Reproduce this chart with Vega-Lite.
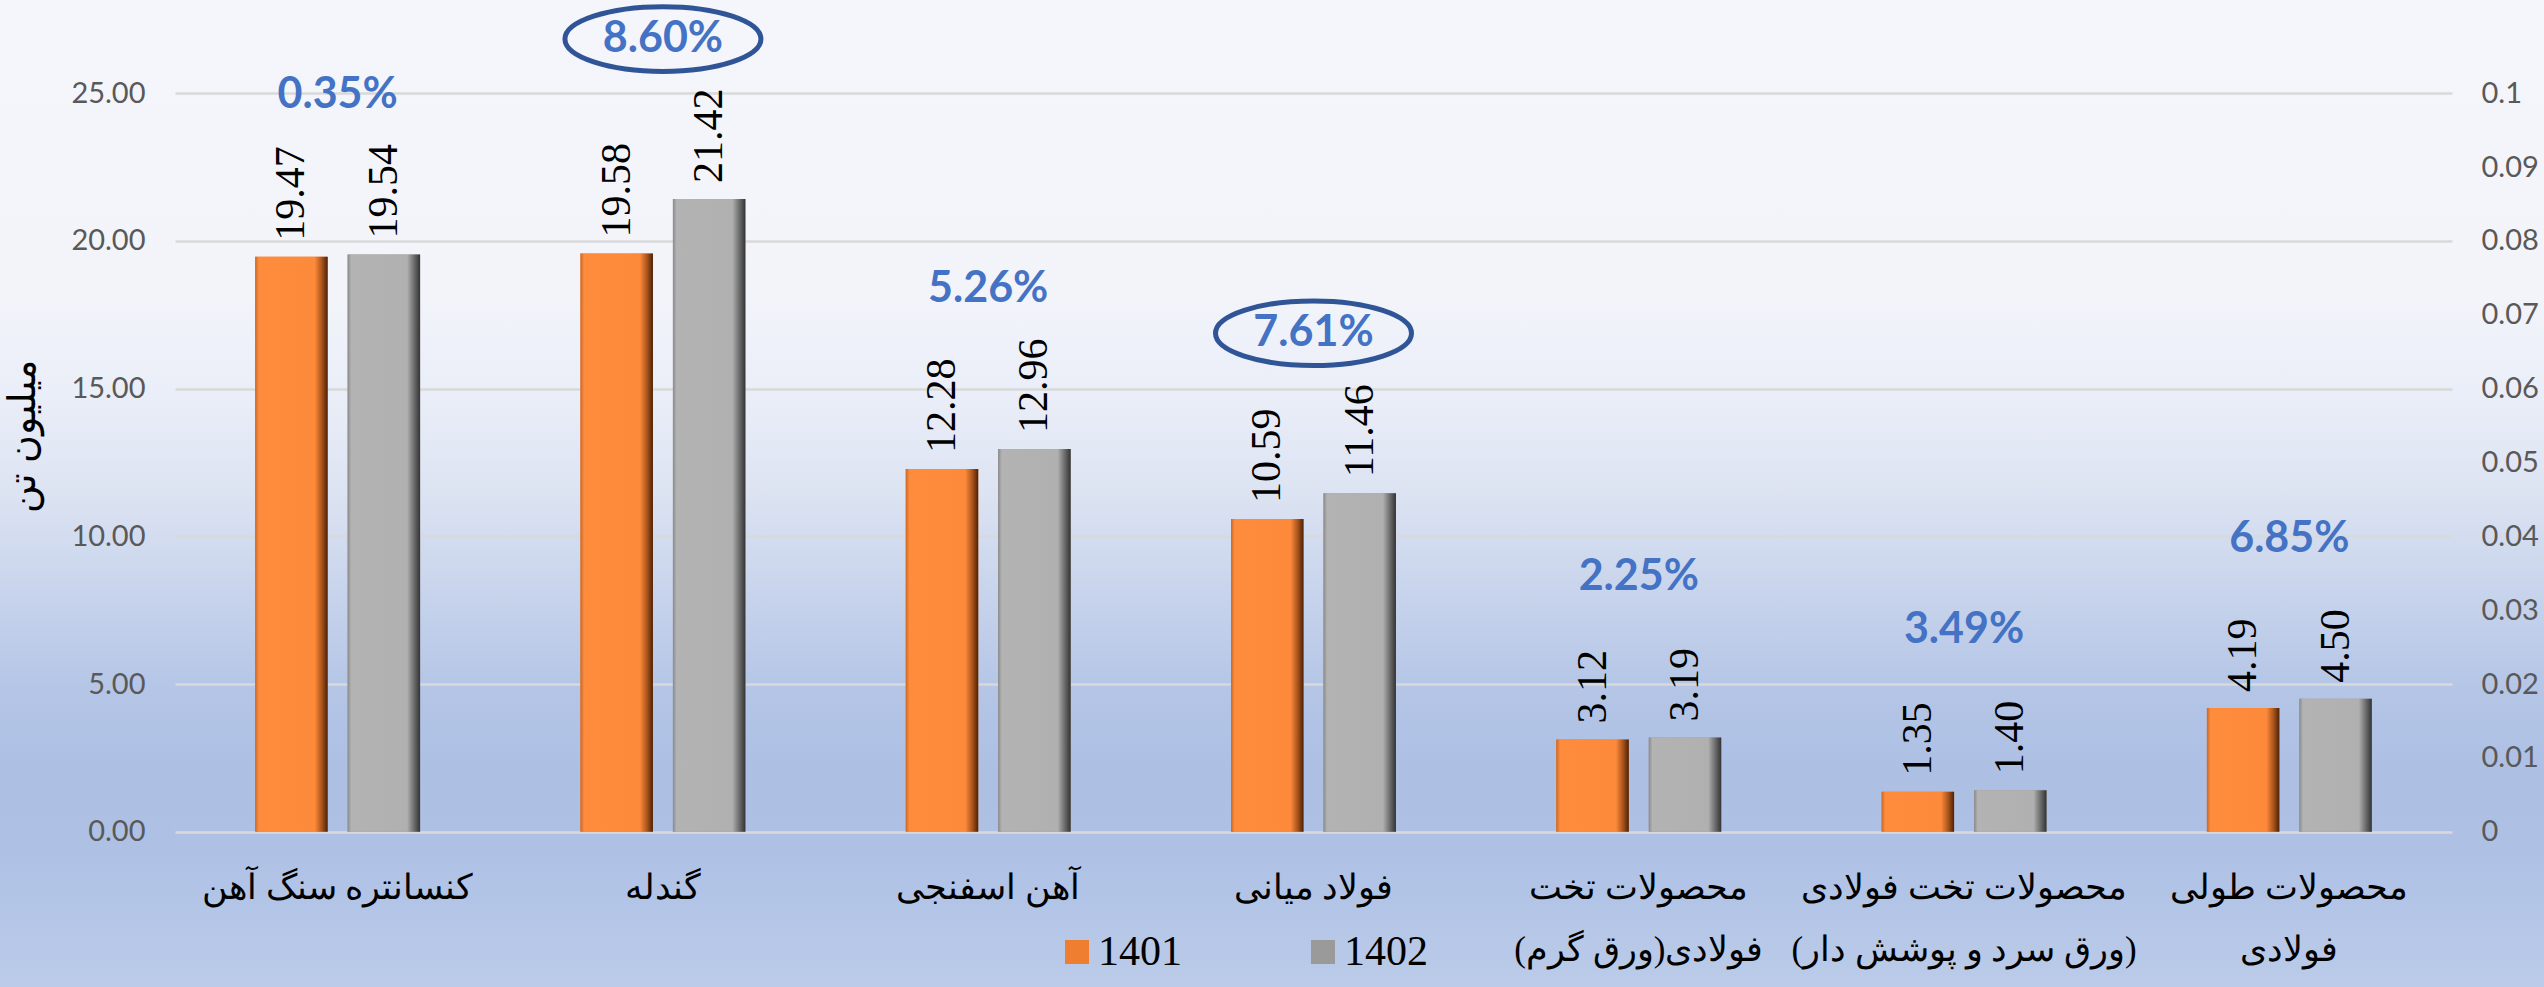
{
  "$schema": "https://vega.github.io/schema/vega-lite/v6.json",
  "width": 2544,
  "height": 987,
  "autosize": {"type": "none"},
  "padding": 0,
  "background": "#f5f6fb",
  "config": {
    "view": {
      "stroke": null,
      "fill": {
        "gradient": "linear", "x1": 0, "y1": 0, "x2": 0, "y2": 1,
        "stops": [
          {"offset": 0, "color": "#f5f6fb"},
          {"offset": 0.3, "color": "#f2f4fa"},
          {"offset": 0.4, "color": "#eaeef8"},
          {"offset": 0.5, "color": "#dce3f2"},
          {"offset": 0.6, "color": "#c8d4ec"},
          {"offset": 0.7, "color": "#b4c5e6"},
          {"offset": 0.78, "color": "#adc0e4"},
          {"offset": 0.86, "color": "#aec1e5"},
          {"offset": 1, "color": "#bbcbe9"}
        ]
      }
    }
  },
  "data": {
    "values": [
      {"category": "کنسانتره سنگ آهن", "1401": 19.47, "1402": 19.54, "growth": 0.0035, "highlight": false},
      {"category": "گندله", "1401": 19.58, "1402": 21.42, "growth": 0.0860, "highlight": true},
      {"category": "آهن اسفنجی", "1401": 12.28, "1402": 12.96, "growth": 0.0526, "highlight": false},
      {"category": "فولاد میانی", "1401": 10.59, "1402": 11.46, "growth": 0.0761, "highlight": true},
      {"category": "محصولات تخت فولادی(ورق گرم)", "1401": 3.12, "1402": 3.19, "growth": 0.0225, "highlight": false},
      {"category": "محصولات تخت فولادی (ورق سرد و پوشش دار)", "1401": 1.35, "1402": 1.40, "growth": 0.0349, "highlight": false},
      {"category": "محصولات طولی فولادی", "1401": 4.19, "1402": 4.50, "growth": 0.0685, "highlight": false}
    ]
  },
  "transform": [{"fold": ["1401", "1402"], "as": ["year", "value"]}],
  "layer": [
    {
      "encoding": {
        "x": {
          "field": "category", "type": "nominal", "sort": null,
          "scale": {"range": [175, 2452], "paddingInner": 0.493, "paddingOuter": 0.2465},
          "axis": {
            "orient": "bottom", "offset": -155.3, "title": null, "domain": false, "ticks": false, "grid": false,
            "labelAngle": 0, "labelFont": "Liberation Serif, Times New Roman, serif", "labelFontSize": 35, "labelColor": "#000000",
            "labelPadding": 39, "labelLineHeight": 62, "labelLimit": 0, "labelBaseline": "top",
            "labelExpr": "datum.value == 'محصولات تخت فولادی(ورق گرم)' ? ['محصولات تخت', 'فولادی(ورق گرم)\u200f'] : datum.value == 'محصولات تخت فولادی (ورق سرد و پوشش دار)' ? ['محصولات تخت فولادی', '\u200f(ورق سرد و پوشش دار)\u200f'] : datum.value == 'محصولات طولی فولادی' ? ['محصولات طولی', 'فولادی'] : datum.label"
          }
        },
        "y": {
          "field": "value", "type": "quantitative",
          "scale": {"domain": [0, 25], "range": [831.7, 93.3], "nice": false, "zero": true},
          "axis": {
            "orient": "left", "offset": -175, "values": [0, 5, 10, 15, 20, 25], "format": ".2f",
            "domain": false, "ticks": false, "grid": true, "gridColor": "#d9d9d9", "gridWidth": 2.5,
            "labelFont": "Lato", "labelFontSize": 29, "labelColor": "#595959", "labelPadding": 30,
            "title": "میلیون تن", "titleFont": "Liberation Serif, Times New Roman, serif", "titleFontSize": 38,
            "titleFontWeight": "normal", "titleColor": "#000000", "titleAngle": 270,
            "titleX": -152, "titleY": 436, "titleAlign": "center", "titleBaseline": "middle"
          }
        }
      },
      "layer": [
        {
          "mark": {"type": "bar"},
          "encoding": {
            "xOffset": {"field": "year", "type": "nominal", "scale": {"paddingInner": 0.216, "paddingOuter": 0}},
            "color": {
              "field": "year", "type": "nominal",
              "scale": {"domain": ["1401", "1402"], "range": ["#f07e30", "#9a9a9a"]},
              "legend": {
                "orient": "none", "legendX": 1056, "legendY": 931, "direction": "horizontal", "title": null,
                "symbolType": "square", "symbolSize": 576, "symbolStrokeWidth": 0,
                "labelFont": "Liberation Serif, Times New Roman, serif", "labelFontSize": 42, "labelColor": "#000000",
                "labelOffset": 0, "columnPadding": 120, "padding": 0
              }
            }
          }
        },
        {
          "mark": {"type": "bar"},
          "encoding": {
            "xOffset": {"field": "year", "type": "nominal"},
            "fill": {
              "condition": {
                "test": "datum.year == '1401'",
                "value": {
                  "gradient": "linear", "x1": 0, "y1": 0, "x2": 1, "y2": 0,
                  "stops": [
                    {"offset": 0, "color": "#c9682a"},
                    {"offset": 0.05, "color": "#fe8c3c"},
                    {"offset": 0.82, "color": "#fd8a3b"},
                    {"offset": 0.92, "color": "#a9531b"},
                    {"offset": 1, "color": "#4a2208"}
                  ]
                }
              },
              "value": {
                "gradient": "linear", "x1": 0, "y1": 0, "x2": 1, "y2": 0,
                "stops": [
                  {"offset": 0, "color": "#8a8a8a"},
                  {"offset": 0.05, "color": "#b3b3b3"},
                  {"offset": 0.82, "color": "#b0b0b0"},
                  {"offset": 0.92, "color": "#6a6a6a"},
                  {"offset": 1, "color": "#333333"}
                ]
              }
            }
          }
        },
        {
          "mark": {"type": "text", "angle": 270, "align": "left", "baseline": "middle", "dx": 16,
                   "font": "Liberation Serif, Times New Roman, serif", "fontSize": 42, "color": "#000000"},
          "encoding": {
            "xOffset": {"field": "year", "type": "nominal"},
            "text": {"field": "value", "type": "quantitative", "format": ".2f"}
          }
        },
        {
          "transform": [{"filter": "datum.year == '1402'"}],
          "mark": {"type": "text", "align": "center", "baseline": "middle", "yOffset": -160,
                   "font": "Lato", "fontWeight": "bold", "fontSize": 43, "color": "#4472c4"},
          "encoding": {
            "text": {"field": "growth", "type": "quantitative", "format": ".2%"}
          }
        },
        {
          "transform": [{"filter": "datum.year == '1402' && datum.highlight"}],
          "mark": {"type": "point", "filled": false, "yOffset": -160,
                   "shape": "M-1,0A1,0.33 0 1,1 1,0A1,0.33 0 1,1 -1,0Z",
                   "size": 38416, "stroke": "#2f5597", "strokeWidth": 5, "opacity": 1},
          "encoding": {}
        }
      ]
    },
    {
      "transform": [{"filter": "datum.year == '1402'"}],
      "mark": {"type": "point", "opacity": 0},
      "encoding": {
        "y": {
          "field": "growth", "type": "quantitative",
          "scale": {"domain": [0, 0.1], "range": [831.7, 93.3], "nice": false, "zero": true},
          "axis": {
            "orient": "right", "offset": -92, "values": [0, 0.01, 0.02, 0.03, 0.04, 0.05, 0.06, 0.07, 0.08, 0.09, 0.1],
            "format": "~g", "domain": false, "ticks": false, "grid": false, "title": null,
            "labelFont": "Lato", "labelFontSize": 29, "labelColor": "#595959", "labelPadding": 29
          }
        }
      }
    }
  ],
  "resolve": {"scale": {"y": "independent"}}
}
